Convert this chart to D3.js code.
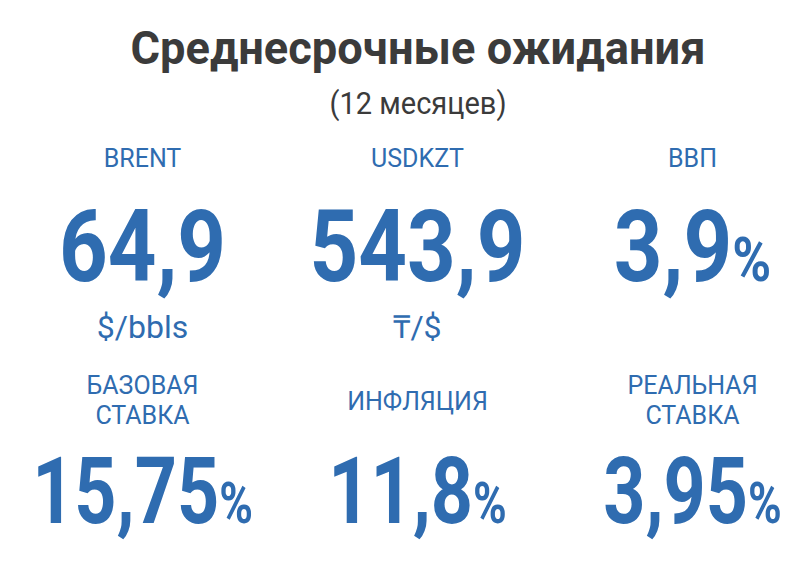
<!DOCTYPE html>
<html><head><meta charset="utf-8">
<script src="https://cdn.jsdelivr.net/npm/d3@7"></script>
<style>body{margin:0;background:#fff}</style>
</head><body><div id="viz"></div>
<script>
const title = "Среднесрочные ожидания",
  subtitle = "(12 месяцев)";
const labels = [["BRENT"], ["USDKZT"], ["ВВП"], ["БАЗОВАЯ", "СТАВКА"], ["ИНФЛЯЦИЯ"], ["РЕАЛЬНАЯ", "СТАВКА"]];
const values = ["64,9", "543,9", "3,9", "15,75", "11,8", "3,95"];
const suffix = ["", "", "%", "%", "%", "%"];
const units = ["$/bbls", "₸/$", "", "", "", ""];

const width = 803, height = 570, blue = "#2f6cb0";
const svg = d3.select('#viz').append('svg').attr('width', width).attr('height', height);

const x = d3.scaleBand().domain([0, 1, 2]).range([5, 830]);
const numSize = [100, 92], squeeze = [0.85, 0.8];

svg.append('text').attr('x', 418).attr('y', 64).attr('text-anchor', 'middle')
  .attr('textLength', 575).attr('lengthAdjust', 'spacingAndGlyphs')
  .style('font-family', 'Roboto').style('font-weight', 700).style('font-size', '46px')
  .attr('fill', '#3b3b3b').text(title);
svg.append('text').attr('x', 418).attr('y', 114).attr('text-anchor', 'middle')
  .attr('textLength', 177).attr('lengthAdjust', 'spacingAndGlyphs')
  .style('font-family', 'Roboto').style('font-size', '31px')
  .attr('fill', '#3b3b3b').text(subtitle);

const g = svg.selectAll('g.kpi').data(values).enter().append('g')
  .attr('transform', (d, i) => `translate(${x(i % 3) + x.bandwidth() / 2},0)`);

g.each(function(d, i) {
  const el = d3.select(this), row = Math.floor(i / 3), lab = labels[i];
  const ly = row ? (lab.length === 1 ? 410 : 394) : 167;
  lab.forEach((t, k) => el.append('text').attr('y', ly + k * 30)
    .attr('text-anchor', 'middle').attr('fill', blue)
    .style('font-family', 'Roboto').style('font-size', '25px').text(t));
  const n = el.append('text').attr('text-anchor', 'middle')
    .attr('transform', `translate(0,${row ? 523 : 281}) scale(${squeeze[row]},1)`)
    .attr('fill', blue).style('font-family', 'Roboto').style('font-weight', 700)
    .style('font-size', numSize[row] + 'px');
  n.append('tspan').text(d);
  n.append('tspan').style('font-size', (numSize[row] * 0.62) + 'px').text(suffix[i]);
  if (units[i]) el.append('text').attr('y', 338).attr('text-anchor', 'middle')
    .attr('fill', blue).style('font-family', 'Roboto').style('font-size', '32px').text(units[i]);
});
</script></body></html>
